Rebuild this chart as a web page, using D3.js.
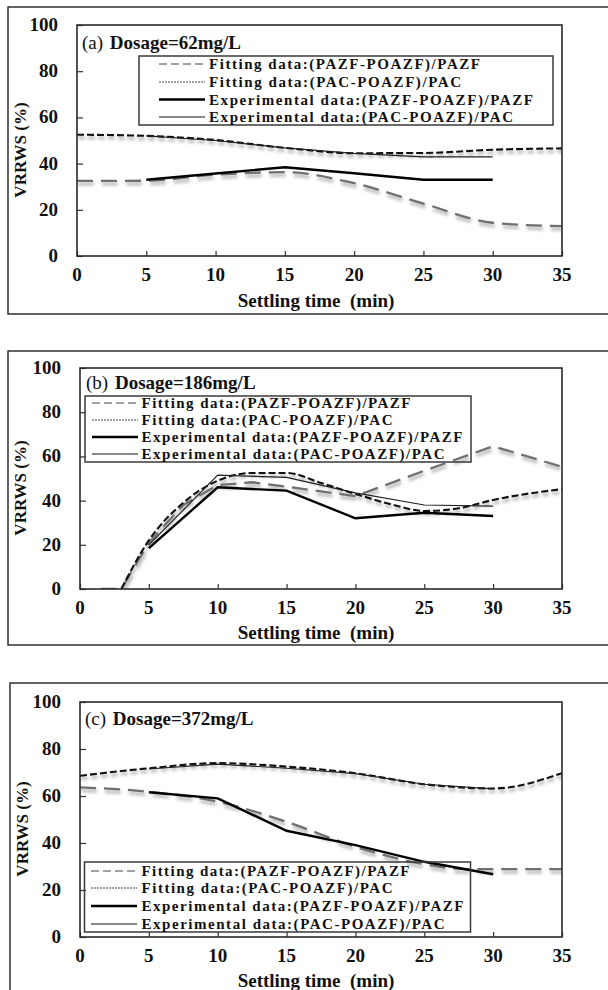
<!DOCTYPE html>
<html>
<head>
<meta charset="utf-8">
<script src="https://cdn.jsdelivr.net/npm/d3@7/dist/d3.min.js"></script>
<style>
  html, body { margin: 0; padding: 0; background: #fff; }
  svg { display: block; }
</style>
</head>
<body>
<svg id="chart" width="608" height="990"></svg>
<script>
// ---------------- DATA ----------------
const xTicks = [0, 5, 10, 15, 20, 25, 30, 35];
const yTicks = [0, 20, 40, 60, 80, 100];
const seriesNames = [
  "Fitting data:(PAZF-POAZF)/PAZF",
  "Fitting data:(PAC-POAZF)/PAC",
  "Experimental data:(PAZF-POAZF)/PAZF",
  "Experimental data:(PAC-POAZF)/PAC"
];
const panelLabels = ["(a)", "(b)", "(c)"];
const panelTitles = ["Dosage=62mg/L", "Dosage=186mg/L", "Dosage=372mg/L"];
const xTitle = "Settling time  (min)";
const yTitle = "VRRWS (%)";

// Panel (a) 62 mg/L
const fitPazfA_t = [0, 5, 10, 15, 20, 25, 30, 35];
const fitPazfA_v = [32.5, 32.6, 35.2, 36.3, 31.5, 22.7, 14.4, 12.9];
const fitPacA_t  = [0, 5, 10, 15, 20, 25, 30, 35];
const fitPacA_v  = [52.5, 52.0, 50.2, 46.8, 44.5, 44.6, 46.0, 46.6];
const expPazfA_t = [5, 10, 15, 20, 25, 30];
const expPazfA_v = [33.0, 35.7, 38.4, 35.8, 33.0, 33.0];
const expPacA_t  = [5, 10, 15, 20, 25, 30];
const expPacA_v  = [52.0, 50.0, 46.8, 44.4, 42.9, 42.9];

// Panel (b) 186 mg/L
const fitPazfB_t = [1.5, 3, 5, 7.5, 10, 12.5, 15, 20, 25, 30, 35];
const fitPazfB_v = [0, 0, 21.0, 38.0, 47.0, 48.3, 46.3, 42.0, 53.5, 64.6, 55.3];
const fitPacB_t  = [3, 5, 7.5, 10, 12.5, 15, 17.5, 20, 22.5, 25, 27.5, 30, 35];
const fitPacB_v  = [0, 22.0, 39.0, 49.0, 52.5, 52.5, 48.0, 43.0, 38.5, 35.3, 36.5, 40.3, 45.2];
const expPazfB_t = [5, 10, 15, 20, 25, 30];
const expPazfB_v = [18.5, 46.0, 44.5, 32.0, 34.5, 33.0];
const expPacB_t  = [5, 10, 15, 20, 25, 30];
const expPacB_v  = [20.0, 51.5, 50.5, 43.5, 38.0, 37.5];

// Panel (c) 372 mg/L
const fitPazfC_t = [0, 5, 10, 15, 20, 25, 28, 30, 35];
const fitPazfC_v = [63.7, 61.8, 57.6, 49.0, 38.4, 31.0, 28.9, 28.9, 28.9];
const fitPacC_t  = [0, 5, 10, 15, 20, 25, 30, 35];
const fitPacC_v  = [68.6, 71.8, 74.0, 72.5, 69.7, 65.0, 63.2, 69.7];
const expPazfC_t = [5, 10, 15, 20, 25, 30];
const expPazfC_v = [61.6, 59.0, 45.2, 39.1, 32.0, 26.7];
const expPacC_t  = [5, 10, 15, 20, 25, 30];
const expPacC_v  = [71.5, 73.6, 71.8, 69.5, 65.0, 63.0];

const panelData = [
  [[fitPazfA_t, fitPazfA_v], [fitPacA_t, fitPacA_v], [expPazfA_t, expPazfA_v], [expPacA_t, expPacA_v]],
  [[fitPazfB_t, fitPazfB_v], [fitPacB_t, fitPacB_v], [expPazfB_t, expPazfB_v], [expPacB_t, expPacB_v]],
  [[fitPazfC_t, fitPazfC_v], [fitPacC_t, fitPacC_v], [expPazfC_t, expPazfC_v], [expPacC_t, expPacC_v]]
];

// ---------------- LAYOUT / STYLE ----------------
const FONT = "'Liberation Serif', 'Times New Roman', Times, 'DejaVu Serif', serif";
const layouts = [
  { frame: {x: 8, y: 7, w: 640, h: 307}, plot: {l: 77, r: 562, t: 25, b: 256},
    title: {x: 82, y: 49}, xTickY: 281, xTitleY: 307, yTitle: {x: 20, y: 150},
    legend: {x: 139, y: 56, w: 414, h: 69, rows: [64, 82, 99.5, 117], sx1: 159, sx2: 205, tx: 209,
             widths: [271, 252, 324, 304]} },
  { frame: {x: 8, y: 351, w: 640, h: 294}, plot: {l: 80, r: 562, t: 368, b: 589},
    title: {x: 86, y: 389}, xTickY: 614, xTitleY: 639, yTitle: {x: 20, y: 488},
    legend: {x: 85, y: 396, w: 386, h: 66, rows: [403, 420, 437, 454], sx1: 92, sx2: 138, tx: 141.5,
             widths: [269, 251, 321, 303]} },
  { frame: {x: 10, y: 683, w: 640, h: 400}, plot: {l: 80, r: 562, t: 702, b: 937},
    title: {x: 85, y: 725}, xTickY: 962, xTitleY: 987, yTitle: {x: 22, y: 829},
    legend: {x: 84.5, y: 862, w: 386, h: 70, rows: [871, 888, 906, 924], sx1: 91, sx2: 137, tx: 141.5,
             widths: [268, 251, 322, 303]} }
];

const smooth = d3.curveMonotoneX;
const lineStyles = [
  {stroke: "#707070", width: 2.3, dash: "16,8", shadow: true},
  {stroke: "#111111", width: 2.1, dash: "7,3", shadow: true},
  {stroke: "#000000", width: 2.4, dash: null, shadow: false},
  {stroke: "#222222", width: 1.2, dash: null, shadow: false}
];
// curve per panel and series (fits in (b) PAZF are piecewise straight with a sharp peak)
const curves = [
  [smooth, smooth, d3.curveLinear, d3.curveLinear],
  [d3.curveLinear, smooth, d3.curveLinear, d3.curveLinear],
  [smooth, smooth, d3.curveLinear, d3.curveLinear]
];
const legendStyles = [
  {stroke: "#444", width: 1, dash: "8,4"},
  {stroke: "#444", width: 1, dash: "2,1"},
  {stroke: "#000", width: 2.6, dash: null},
  {stroke: "#111", width: 1, dash: null}
];

// ---------------- DRAW ----------------
const svg = d3.select("#chart");
const defs = svg.append("defs");
defs.append("filter").attr("id", "blur").attr("x", "-5%").attr("y", "-20%").attr("width", "110%").attr("height", "140%")
  .append("feGaussianBlur").attr("stdDeviation", 1.6);

function txt(sel) {
  return sel.attr("font-family", FONT).attr("fill", "#111");
}

layouts.forEach((L, pi) => {
  const g = svg.append("g");
  g.append("rect").attr("x", L.frame.x).attr("y", L.frame.y).attr("width", L.frame.w).attr("height", L.frame.h)
    .attr("fill", "none").attr("stroke", "#222").attr("stroke-width", 1.4);

  const x = d3.scaleLinear().domain([0, 35]).range([L.plot.l, L.plot.r]);
  const y = d3.scaleLinear().domain([0, 100]).range([L.plot.b, L.plot.t]);

  const clipId = "clip" + pi;
  defs.append("clipPath").attr("id", clipId).append("rect")
    .attr("x", L.plot.l).attr("y", L.plot.t - 2).attr("width", L.plot.r - L.plot.l).attr("height", L.plot.b - L.plot.t + 2);
  const lg = g.append("g").attr("clip-path", `url(#${clipId})`);
  const mk = (s, si) => {
    const pts = s[0].map((t, i) => [t, s[1][i]]);
    return d3.line().x(d => x(d[0])).y(d => y(d[1])).curve(curves[pi][si])(pts);
  };
  panelData[pi].forEach((s, si) => {
    const st = lineStyles[si];
    if (st.shadow) {
      lg.append("path").attr("d", mk(s, si)).attr("fill", "none")
        .attr("stroke", "#c4c4c4").attr("stroke-width", st.width + 1.6)
        .attr("stroke-dasharray", st.dash).attr("transform", "translate(1,3)")
        .attr("filter", "url(#blur)");
    }
  });
  panelData[pi].forEach((s, si) => {
    const st = lineStyles[si];
    lg.append("path").attr("d", mk(s, si)).attr("fill", "none")
      .attr("stroke", st.stroke).attr("stroke-width", st.width)
      .attr("stroke-dasharray", st.dash);
  });

  const xAxis = d3.axisBottom(x).tickValues(xTicks).tickSize(-5).tickFormat("");
  g.append("g").attr("transform", `translate(0,${L.plot.b})`).call(xAxis)
    .call(a => a.select(".domain").remove())
    .call(a => a.selectAll("line").attr("stroke", "#333").attr("stroke-width", 1.2));
  const yAxis = d3.axisLeft(y).tickValues(yTicks).tickSize(-6).tickFormat("");
  g.append("g").attr("transform", `translate(${L.plot.l},0)`).call(yAxis)
    .call(a => a.select(".domain").remove())
    .call(a => a.selectAll("line").attr("stroke", "#333").attr("stroke-width", 1.2));

  g.append("rect").attr("x", L.plot.l).attr("y", L.plot.t)
    .attr("width", L.plot.r - L.plot.l).attr("height", L.plot.b - L.plot.t)
    .attr("fill", "none").attr("stroke", "#2a2a2a").attr("stroke-width", 1.6);

  g.selectAll(".xt").data(xTicks).enter().append("text").call(txt)
    .attr("x", d => x(d)).attr("y", L.xTickY).attr("text-anchor", "middle")
    .attr("font-size", 19).attr("font-weight", "bold").text(d => d);
  g.selectAll(".yt").data(yTicks).enter().append("text").call(txt)
    .attr("x", L.plot.l - 19).attr("y", d => y(d) + 6).attr("text-anchor", "end")
    .attr("font-size", 19).attr("font-weight", "bold").text(d => d);

  g.append("text").call(txt).attr("x", 316).attr("y", L.xTitleY).attr("text-anchor", "middle")
    .attr("font-size", 19).attr("font-weight", "bold").style("white-space", "pre").text(xTitle);
  g.append("text").call(txt).attr("transform", `translate(${L.yTitle.x + 6},${L.yTitle.y}) rotate(-90)`)
    .attr("text-anchor", "middle").attr("font-size", 17).attr("font-weight", "bold").text(yTitle);

  const tt = g.append("text").call(txt).attr("x", L.title.x).attr("y", L.title.y).attr("font-size", 19);
  tt.append("tspan").attr("font-weight", "normal").text(panelLabels[pi] + " ");
  tt.append("tspan").attr("font-weight", "bold").attr("dx", 2).text(panelTitles[pi]);

  const Lg = L.legend;
  g.append("rect").attr("x", Lg.x).attr("y", Lg.y).attr("width", Lg.w).attr("height", Lg.h)
    .attr("fill", "none").attr("stroke", "#3a3a3a").attr("stroke-width", 1.5);
  seriesNames.forEach((name, si) => {
    const ls = legendStyles[si];
    g.append("line").attr("x1", Lg.sx1).attr("x2", Lg.sx2).attr("y1", Lg.rows[si]).attr("y2", Lg.rows[si])
      .attr("stroke", ls.stroke).attr("stroke-width", ls.width).attr("stroke-dasharray", ls.dash);
    g.append("text").call(txt).attr("x", Lg.tx).attr("y", Lg.rows[si] + 5)
      .attr("font-size", 15).attr("font-weight", "bold")
      .attr("textLength", Lg.widths[si]).attr("lengthAdjust", "spacing")
      .text(name);
  });
});
</script>
</body>
</html>
